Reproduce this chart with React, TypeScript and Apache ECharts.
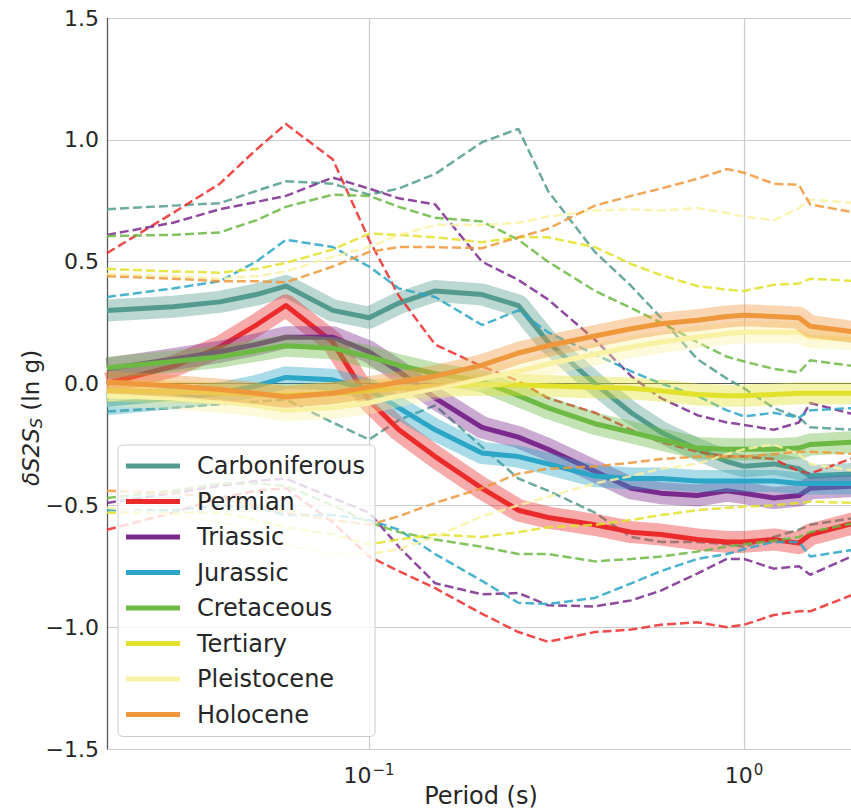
import React, { useEffect, useRef } from "react";
import * as echarts from "echarts";

// Spectral periods (s)
const periods = [0.02, 0.03, 0.04, 0.05, 0.06, 0.08, 0.1, 0.12, 0.15, 0.2, 0.25, 0.3, 0.4, 0.5, 0.6, 0.75, 0.9, 1.0, 1.2, 1.4, 1.5, 2.0];

const geologyNames = ["Carboniferous", "Permian", "Triassic", "Jurassic", "Cretaceous", "Tertiary", "Pleistocene", "Holocene"];
const geologyColors = ["#549b8f", "#eb2b2b", "#7a2a8d", "#2ba6c6", "#6cb944", "#e2e22c", "#f9f1a4", "#ef983b"];

// mean δS2S_S per geology, with the ±1σ envelopes
const carbMean = [0.30, 0.315, 0.335, 0.365, 0.40, 0.30, 0.27, 0.33, 0.38, 0.365, 0.32, 0.17, 0.0, -0.12, -0.20, -0.27, -0.32, -0.34, -0.33, -0.35, -0.38, -0.37];
const carbUpper = [0.715, 0.73, 0.74, 0.79, 0.83, 0.82, 0.775, 0.80, 0.86, 0.99, 1.045, 0.79, 0.54, 0.40, 0.27, 0.10, 0.02, -0.02, -0.10, -0.14, -0.18, -0.19];
const carbLower = [-0.115, -0.10, -0.085, -0.075, -0.065, -0.16, -0.23, -0.15, -0.09, -0.26, -0.39, -0.44, -0.53, -0.63, -0.65, -0.65, -0.66, -0.67, -0.63, -0.60, -0.58, -0.55];

const permMean = [0.0, 0.07, 0.15, 0.24, 0.32, 0.17, -0.07, -0.19, -0.30, -0.43, -0.52, -0.55, -0.58, -0.61, -0.62, -0.64, -0.65, -0.65, -0.64, -0.655, -0.62, -0.57];
const permUpper = [0.535, 0.70, 0.82, 0.96, 1.065, 0.92, 0.59, 0.36, 0.16, 0.07, 0.01, -0.06, -0.12, -0.19, -0.24, -0.28, -0.30, -0.30, -0.31, -0.36, -0.37, -0.30];
const permLower = [-0.60, -0.53, -0.47, -0.44, -0.43, -0.57, -0.71, -0.77, -0.84, -0.945, -1.02, -1.06, -1.02, -1.01, -0.99, -0.98, -1.0, -0.99, -0.95, -0.935, -0.935, -0.86];

const triMean = [0.06, 0.10, 0.13, 0.16, 0.19, 0.19, 0.13, 0.05, -0.06, -0.18, -0.22, -0.27, -0.36, -0.43, -0.45, -0.46, -0.44, -0.45, -0.47, -0.46, -0.43, -0.42];
const triUpper = [0.61, 0.66, 0.715, 0.745, 0.77, 0.845, 0.80, 0.76, 0.735, 0.50, 0.425, 0.345, 0.18, 0.03, -0.06, -0.13, -0.16, -0.17, -0.19, -0.16, -0.08, -0.13];
const triLower = [-0.49, -0.45, -0.42, -0.40, -0.39, -0.47, -0.53, -0.67, -0.82, -0.865, -0.86, -0.91, -0.915, -0.89, -0.85, -0.78, -0.72, -0.72, -0.76, -0.75, -0.785, -0.70];

const jurMean = [-0.085, -0.06, -0.04, -0.01, 0.025, 0.015, -0.025, -0.10, -0.19, -0.285, -0.30, -0.33, -0.38, -0.39, -0.39, -0.40, -0.40, -0.40, -0.40, -0.41, -0.41, -0.41];
const jurUpper = [0.355, 0.39, 0.42, 0.50, 0.59, 0.56, 0.48, 0.39, 0.355, 0.24, 0.30, 0.21, 0.12, 0.05, 0.0, -0.05, -0.11, -0.135, -0.12, -0.14, -0.11, -0.10];
const jurLower = [-0.52, -0.52, -0.50, -0.51, -0.54, -0.54, -0.56, -0.60, -0.70, -0.81, -0.90, -0.905, -0.88, -0.82, -0.77, -0.72, -0.70, -0.68, -0.65, -0.65, -0.71, -0.68];

const cretMean = [0.065, 0.09, 0.11, 0.135, 0.155, 0.145, 0.11, 0.075, 0.04, 0.01, -0.05, -0.10, -0.165, -0.20, -0.23, -0.265, -0.27, -0.27, -0.27, -0.265, -0.25, -0.24];
const cretUpper = [0.605, 0.61, 0.62, 0.67, 0.725, 0.775, 0.77, 0.725, 0.68, 0.665, 0.59, 0.50, 0.38, 0.31, 0.25, 0.17, 0.11, 0.09, 0.06, 0.045, 0.095, 0.07];
const cretLower = [-0.47, -0.44, -0.41, -0.41, -0.42, -0.50, -0.57, -0.61, -0.64, -0.67, -0.70, -0.70, -0.73, -0.72, -0.71, -0.69, -0.67, -0.66, -0.645, -0.63, -0.61, -0.57];

const tertMean = [-0.03, -0.035, -0.04, -0.045, -0.05, -0.04, -0.03, -0.02, -0.01, -0.005, -0.005, -0.01, -0.015, -0.02, -0.03, -0.045, -0.05, -0.05, -0.045, -0.04, -0.04, -0.04];
const tertUpper = [0.47, 0.46, 0.455, 0.47, 0.495, 0.55, 0.615, 0.61, 0.60, 0.58, 0.60, 0.60, 0.56, 0.49, 0.445, 0.40, 0.385, 0.38, 0.405, 0.41, 0.43, 0.42];
const tertLower = [-0.53, -0.53, -0.53, -0.56, -0.59, -0.62, -0.66, -0.64, -0.62, -0.63, -0.61, -0.59, -0.58, -0.56, -0.54, -0.52, -0.51, -0.505, -0.50, -0.49, -0.485, -0.49];

const pleiMean = [-0.05, -0.06, -0.075, -0.09, -0.11, -0.10, -0.08, -0.05, -0.02, 0.02, 0.05, 0.08, 0.12, 0.15, 0.17, 0.19, 0.205, 0.21, 0.21, 0.21, 0.19, 0.18];
const pleiUpper = [0.45, 0.44, 0.43, 0.44, 0.46, 0.52, 0.56, 0.61, 0.65, 0.65, 0.66, 0.685, 0.71, 0.715, 0.71, 0.72, 0.70, 0.685, 0.67, 0.72, 0.755, 0.74];
const pleiLower = [-0.51, -0.54, -0.57, -0.61, -0.66, -0.70, -0.70, -0.68, -0.63, -0.545, -0.50, -0.465, -0.41, -0.38, -0.35, -0.33, -0.29, -0.27, -0.25, -0.29, -0.33, -0.36];

const holoMean = [0.005, -0.01, -0.025, -0.04, -0.055, -0.04, -0.015, 0.005, 0.03, 0.075, 0.125, 0.155, 0.195, 0.225, 0.245, 0.26, 0.275, 0.28, 0.275, 0.27, 0.235, 0.21];
const holoUpper = [0.44, 0.43, 0.42, 0.42, 0.415, 0.48, 0.54, 0.56, 0.56, 0.555, 0.60, 0.635, 0.73, 0.77, 0.80, 0.84, 0.88, 0.865, 0.82, 0.815, 0.735, 0.70];
const holoLower = [-0.44, -0.45, -0.47, -0.50, -0.53, -0.56, -0.58, -0.545, -0.49, -0.43, -0.37, -0.35, -0.34, -0.325, -0.31, -0.30, -0.30, -0.30, -0.29, -0.28, -0.28, -0.29];

const yTicks = [-1.5, -1.0, -0.5, 0.0, 0.5, 1.0, 1.5];

const means = [carbMean, permMean, triMean, jurMean, cretMean, tertMean, pleiMean, holoMean];
const uppers = [carbUpper, permUpper, triUpper, jurUpper, cretUpper, tertUpper, pleiUpper, holoUpper];
const lowers = [carbLower, permLower, triLower, jurLower, cretLower, tertLower, pleiLower, holoLower];

const FONT = "DejaVu Sans";
const TEXT = "#262626";

const pairs = (ys: number[]) => periods.map((p, i) => [p, ys[i]]);
const fmtNum = (v: number) => (v < 0 ? "\u2212" : "") + Math.abs(v).toFixed(1);

function buildSeries() {
  const series: any[] = [];
  geologyNames.forEach((name, i) => {
    const color = geologyColors[i];
    const base = { type: "line", symbol: "none", silent: true, clip: true, animation: false };
    series.push({
      ...base,
      name: name + " band",
      data: pairs(means[i]),
      lineStyle: { color, width: 22, opacity: 0.4, join: "round", cap: "butt" },
      itemStyle: { color },
    });
    series.push({
      ...base,
      name,
      data: pairs(means[i]),
      lineStyle: { color, width: 5, join: "round", cap: "butt" },
      itemStyle: { color },
    });
    [uppers[i], lowers[i]].forEach((ys, k) => {
      series.push({
        ...base,
        name: name + (k === 0 ? " +σ" : " −σ"),
        data: pairs(ys),
        lineStyle: { color, width: 2.5, type: [9, 4], opacity: 0.85 },
        itemStyle: { color },
      });
    });
  });
  return series;
}

export default function App() {
  const ref = useRef<HTMLDivElement>(null);

  useEffect(() => {
    if (!ref.current) return;
    const chart = echarts.init(ref.current, undefined, { renderer: "svg" });
    chart.setOption({
      animation: false,
      backgroundColor: "#ffffff",
      // the plot runs past the right edge of the page, as two decades of 375 px
      grid: {
        left: 107,
        top: 18,
        width: 750,
        height: 731,
        containLabel: false,
        outerBoundsMode: "none",
      },
      xAxis: {
        type: "log",
        logBase: 10,
        min: 0.02,
        max: 2,
        axisLine: { show: true, lineStyle: { color: "#555555", width: 1.2 } },
        axisTick: { show: false },
        splitLine: { show: true, lineStyle: { color: "#cccccc", width: 1.2 } },
        axisLabel: {
          showMinLabel: false,
          showMaxLabel: false,
          margin: 13,
          formatter: (v: number) => {
            const e = Math.round(Math.log10(v));
            return "{b|10}{s|" + (e < 0 ? "\u2212" + -e : String(e)) + "}";
          },
          rich: {
            b: { fontFamily: FONT, fontSize: 22, color: TEXT },
            s: { fontFamily: FONT, fontSize: 15, color: TEXT, padding: [0, 0, 12, 1] },
          },
        },
      },
      yAxis: {
        type: "value",
        min: yTicks[0],
        max: yTicks[yTicks.length - 1],
        interval: 0.5,
        axisLine: { show: true, lineStyle: { color: "#555555", width: 1.2 } },
        axisTick: { show: false },
        splitLine: { show: true, lineStyle: { color: "#cccccc", width: 1.2 } },
        axisLabel: {
          margin: 8,
          fontFamily: FONT,
          fontSize: 22,
          color: TEXT,
          formatter: (v: number) => fmtNum(v),
        },
      },
      graphic: [
        {
          type: "text",
          x: 481,
          y: 796,
          silent: true,
          style: {
            text: "Period (s)",
            align: "center",
            verticalAlign: "middle",
            fontFamily: FONT,
            fontSize: 24,
            fill: TEXT,
          },
        },
        {
          type: "text",
          x: 31,
          y: 418,
          rotation: Math.PI / 2,
          silent: true,
          style: {
            text: "{i|\u03b4S2S}{s|S}{n| (ln g)}",
            align: "center",
            verticalAlign: "middle",
            rich: {
              i: { fontFamily: FONT, fontSize: 23, fontStyle: "italic", fill: TEXT },
              s: { fontFamily: FONT, fontSize: 16, fontStyle: "italic", fill: TEXT, padding: [10, 0, 0, 0] },
              n: { fontFamily: FONT, fontSize: 23, fill: TEXT },
            },
          },
        },
      ],
      legend: {
        data: geologyNames,
        orient: "vertical",
        left: 118,
        top: 445,
        icon: "rect",
        itemWidth: 54,
        itemHeight: 5,
        itemGap: 11.5,
        padding: [9, 10, 10, 8],
        backgroundColor: "rgba(255,255,255,0.8)",
        borderColor: "#cccccc",
        borderWidth: 1,
        borderRadius: 5,
        textStyle: { fontFamily: FONT, fontSize: 24, lineHeight: 24, color: TEXT, padding: [0, 0, 0, 12] },
      },
      series: buildSeries(),
    });
    return () => chart.dispose();
  }, []);

  return (
    <div
      ref={ref}
      style={{ position: "fixed", left: 0, top: 0, width: 851, height: 810, background: "#fff" }}
    />
  );
}
